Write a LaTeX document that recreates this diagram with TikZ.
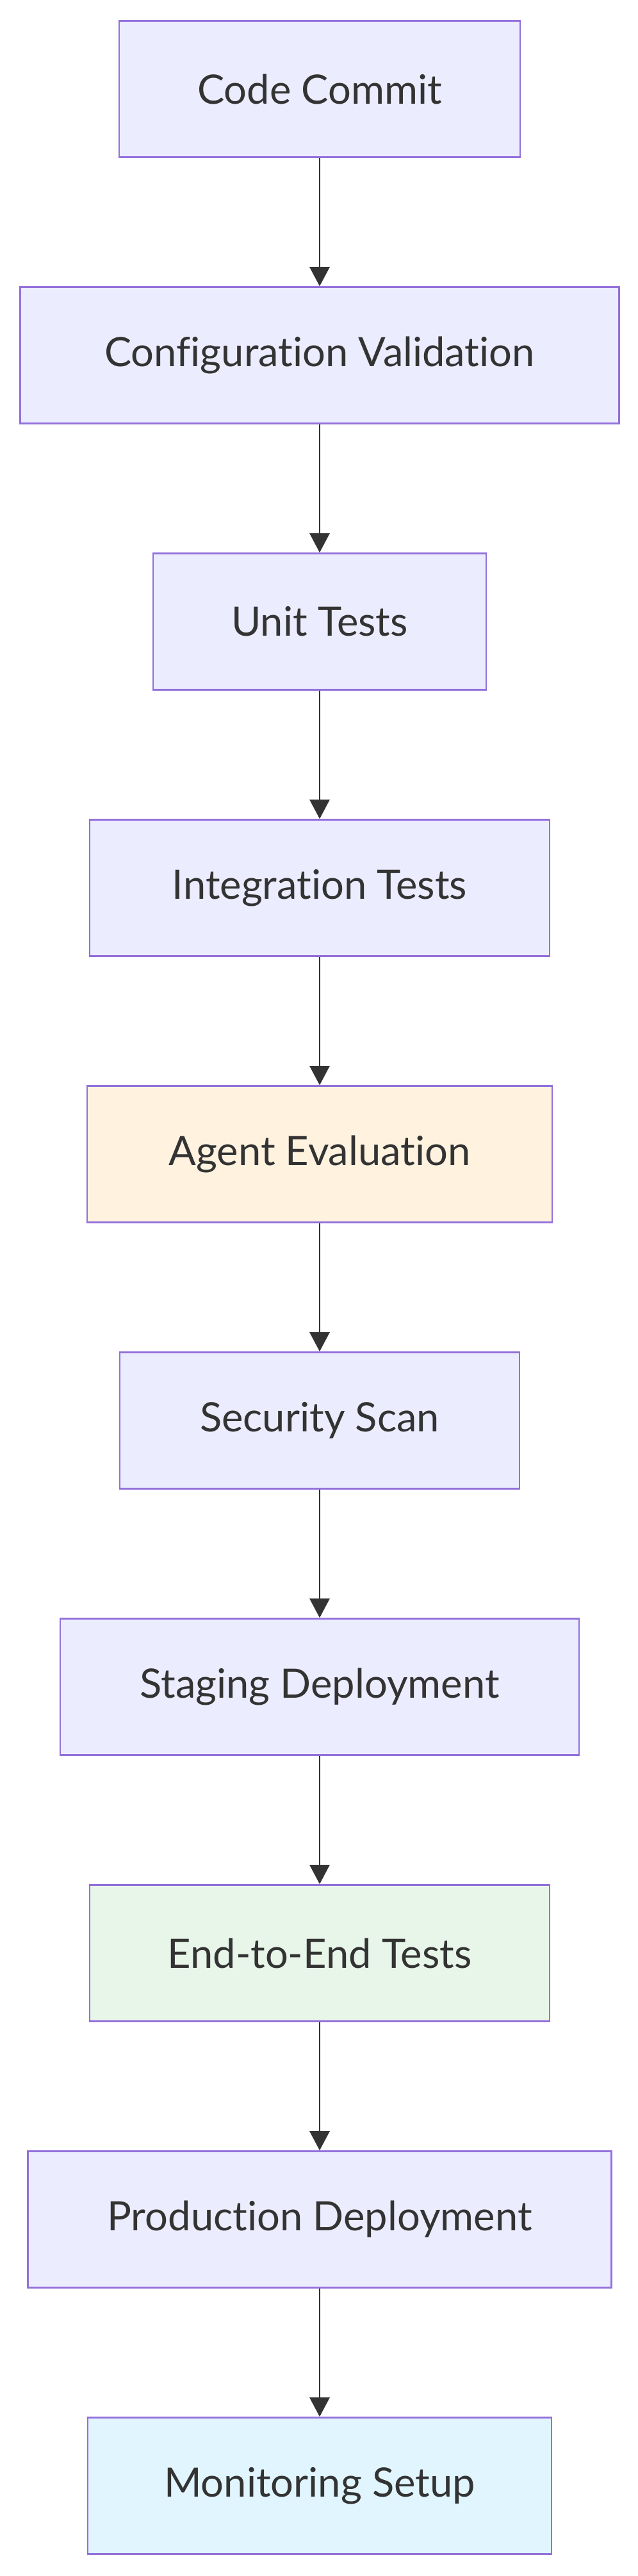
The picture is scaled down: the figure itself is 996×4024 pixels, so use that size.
\documentclass[tikz,border=0pt]{standalone}
\usepackage{fontspec}
\setmainfont{Lato}[Ligatures={NoCommon,NoRare}]
\usetikzlibrary{arrows.meta}
\definecolor{mfill}{HTML}{ECECFF}
\definecolor{mline}{HTML}{9370DB}
\definecolor{mtext}{HTML}{333333}
\definecolor{afill}{HTML}{FFF3E0}
\definecolor{efill}{HTML}{E8F5E9}
\definecolor{ofill}{HTML}{E1F5FE}

\begin{document}
\begin{tikzpicture}[x=0.02cm,y=-0.02cm,font=\fontsize{36}{43}\selectfont,
        stage/.style={rectangle,draw=mline,fill=mfill,line width=1.6pt,
          minimum height=4.26cm,inner sep=0pt,text=mtext},
        flow/.style={draw=mtext,line width=1.6pt,
          -{Triangle[length=0.6cm,width=0.62cm]}}]
        \useasboundingbox (0,0) rectangle (996,4024);
        \node[stage,minimum width=12.52cm](commit) at (499,139){Code Commit};
        \node[stage,minimum width=18.70cm](config) at (499,555){Configuration Validation};
        \node[stage,minimum width=10.40cm](unit) at (499,971){Unit Tests};
        \node[stage,minimum width=14.36cm](integ) at (499,1387){Integration Tests};
        \node[stage,fill=afill,minimum width=14.52cm](agent) at (499,1803){Agent Evaluation};
        \node[stage,minimum width=12.48cm](scan) at (499,2219){Security Scan};
        \node[stage,minimum width=16.20cm](staging) at (499,2635){Staging Deployment};
        \node[stage,fill=efill,minimum width=14.36cm](etoe) at (499,3051){End-to-End Tests};
        \node[stage,minimum width=18.22cm](prod) at (499,3467){Production Deployment};
        \node[stage,fill=ofill,minimum width=14.48cm](monitor) at (499,3883){Monitoring Setup};
        \foreach \a/\b in {commit/config,config/unit,unit/integ,integ/agent,agent/scan,
            scan/staging,staging/etoe,etoe/prod,prod/monitor}
          {\draw[flow](\a)--(\b);}
      \end{tikzpicture}
\end{document}
